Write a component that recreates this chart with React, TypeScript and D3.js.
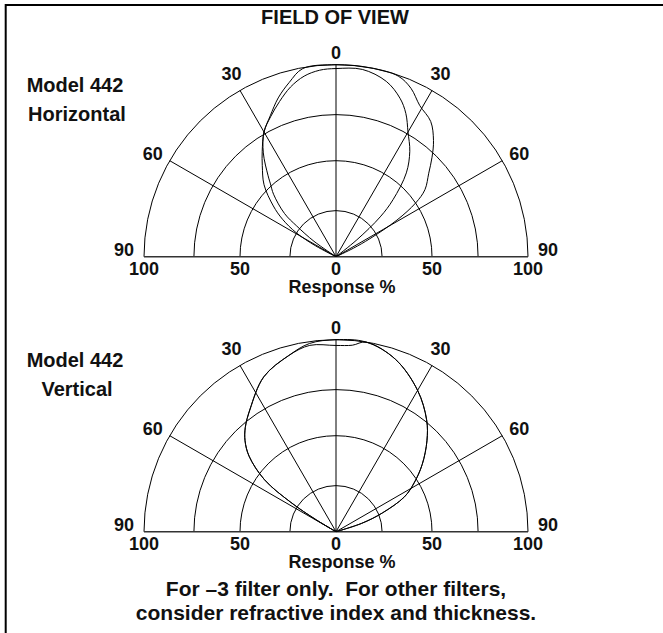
import React from 'react';
import * as d3 from 'd3';

const W = 663;
const H = 633;

// grid
const ringValues = [24, 50, 74, 100];
const spokeAngles = [-60, -30, 0, 30, 60];
const angleLabels = [-90, -60, -30, 0, 30, 60, 90];
const radialTicks = [-100, -50, 0, 50, 100];

// [angle from vertical (deg), response %]
const horizA = [[-58, 0], [-55, 14], [-52, 26], [-50, 35], [-45, 46], [-42, 51], [-40, 55], [-35, 66], [-30, 75], [-25, 80.5], [-20, 86], [-15, 91.5], [-10, 95.5], [-5, 97.5], [0, 98], [8, 98.5], [16, 95], [22, 89], [26, 83], [30, 75], [35, 67], [40, 57], [45, 42], [48, 31], [51, 14], [54, 0]];
const horizB = [[-65, 0], [-62, 12], [-59, 24], [-55, 34], [-51, 42], [-45, 53], [-39, 61], [-35, 67], [-30, 75], [-25, 81], [-20, 88], [-15, 94], [-10, 99.5], [0, 100], [10, 100], [19, 99.5], [24, 96], [29, 90], [35, 86], [40, 79], [44, 72], [48, 65], [53, 58], [56, 50], [59, 37], [62, 20], [64, 10], [66, 0]];
const vertA = [[-61, 0], [-59, 12], [-57, 28], [-54, 46], [-49, 60], [-45, 67], [-41, 72], [-35, 78], [-25, 89], [-15, 95], [-8, 99], [0, 100], [9, 100], [19, 95], [30, 85], [39, 75], [45, 67], [52, 57], [58, 48], [63, 40], [68, 26], [72, 14], [78, 0]];
const vertB = [[-61, 0], [-59, 12], [-57, 28], [-54, 46], [-49, 60], [-45, 67], [-41, 72], [-35, 78], [-25, 89], [-15, 95], [-8, 98], [0, 97], [5, 97.5], [9, 100], [19, 95], [30, 85], [39, 75], [45, 67], [52, 57], [58, 48], [63, 40], [68, 26], [72, 14], [78, 0]];

const font = 'Liberation Sans, Arial, Helvetica, sans-serif';
const R = 192;
const cx = 336;

const r = d3.scaleLinear().domain([0, 100]).range([0, R]);
const rad = (a: number) => (a * Math.PI) / 180;

// label nudges off the outer ring, by |angle|
const nudge: Record<number, [number, number]> = { 0: [0, -6], 30: [8.5, -10.4], 60: [17, -1.2], 90: [20, -0.7] };

const line = d3
  .lineRadial<number[]>()
  .angle(d => rad(d[0]))
  .radius(d => r(d[1]))
  .curve(d3.curveCatmullRom.alpha(0.5));

const halfRing = (v: number) => {
  const p = d3.path();
  p.moveTo(-r(v), 0);
  p.arc(0, 0, r(v), Math.PI, 2 * Math.PI);
  return p.toString();
};

const Polar = ({ cy, traces, name }: { cy: number; traces: number[][][]; name: string[] }) => (
  <g transform={`translate(${cx},${cy})`}>
    {ringValues.map(v => (
      <path key={v} d={halfRing(v)} fill="none" stroke="#000" strokeWidth={1} />
    ))}
    {spokeAngles.map(a => (
      <line key={a} x1={0} y1={0} x2={r(100) * Math.sin(rad(a))} y2={-r(100) * Math.cos(rad(a))} stroke="#000" strokeWidth={1} />
    ))}
    <line x1={-r(100)} x2={r(100)} y1={0} y2={0} stroke="#333" strokeWidth={1.6} />
    {traces.map((t, i) => (
      <path key={i} d={line(t) || ''} fill="none" stroke="#000" strokeWidth={1} />
    ))}
    <g fontFamily={font} fontWeight="bold" fontSize={18} fill="#111" textAnchor="middle">
      {angleLabels.map(a => {
        const [dx, dy] = nudge[Math.abs(a)];
        const x = r(100) * Math.sin(rad(a)) + Math.sign(a) * dx;
        const y = -r(100) * Math.cos(rad(a)) + dy;
        return (
          <text key={a} x={x} y={y}>
            {Math.abs(a)}
          </text>
        );
      })}
      {radialTicks.map((v, i) => (
        <text key={i} x={Math.sign(v) * r(Math.abs(v))} y={18}>
          {Math.abs(v)}
        </text>
      ))}
      <text x={6} y={36.5}>Response %</text>
    </g>
    <g fontFamily={font} fontWeight="bold" fontSize={20} fill="#111" textAnchor="middle">
      <text x={75 - cx} y={-165}>{name[0]}</text>
      <text x={77 - cx} y={-136}>{name[1]}</text>
    </g>
  </g>
);

export default function App() {
  return (
    <svg width={W} height={H} style={{ position: 'absolute', left: 0, top: 0, background: '#fff' }}>
      <rect x={5.7} y={5} width={W + 20} height={H + 20} fill="#fff" stroke="#000" strokeWidth={2} />
      <text x={335} y={24} fontFamily={font} fontWeight="bold" fontSize={20} textAnchor="middle" fill="#111">
        FIELD OF VIEW
      </text>
      <Polar cy={256.7} traces={[horizA, horizB]} name={['Model 442', 'Horizontal']} />
      <Polar cy={531.7} traces={[vertA, vertB]} name={['Model 442', 'Vertical']} />
      <g fontFamily={font} fontWeight="bold" fontSize={21} textAnchor="middle" fill="#111">
        <text x={336} y={595.5} style={{ whiteSpace: 'pre' }}>For –3 filter only.  For other filters,</text>
        <text x={336} y={619.7}>consider refractive index and thickness.</text>
      </g>
    </svg>
  );
}
